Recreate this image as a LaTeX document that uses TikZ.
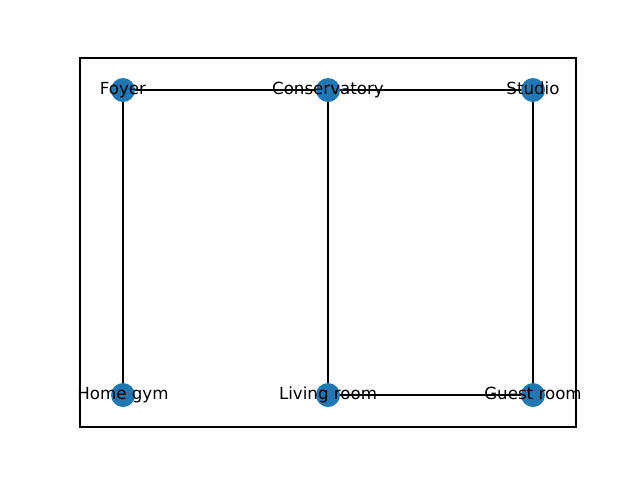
\documentclass[tikz,border=0pt]{standalone}
\usepackage{fontspec}
\setmainfont{DejaVu Sans}
\definecolor{nodeblue}{HTML}{1F77B4}
\begin{document}
\begin{tikzpicture}[x=0.75pt,y=-0.75pt,
  vertex/.style={circle,fill=nodeblue,minimum size=18pt,inner sep=0pt},
  lbl/.style={font=\fontsize{12.5pt}{15pt}\selectfont,inner sep=0pt,anchor=center,text height=9pt,text depth=3pt},
  edge/.style={line width=1pt,black}]
\useasboundingbox (0,0) rectangle (640,480);
\draw[line width=0.8pt] (80,58) rectangle (576,427);
\coordinate (foyer) at (123,90);
\coordinate (cons) at (328,90);
\coordinate (studio) at (533,90);
\coordinate (gym) at (123,395);
\coordinate (living) at (328,395);
\coordinate (guest) at (533,395);
\draw[edge] (foyer) -- (cons);
\draw[edge] (cons) -- (studio);
\draw[edge] (foyer) -- (gym);
\draw[edge] (cons) -- (living);
\draw[edge] (studio) -- (guest);
\draw[edge] (living) -- (guest);
\node[vertex] (nfoyer) at (foyer) {};
\node[vertex] (ncons) at (cons) {};
\node[vertex] (nstudio) at (studio) {};
\node[vertex] (ngym) at (gym) {};
\node[vertex] (nliving) at (living) {};
\node[vertex] (nguest) at (guest) {};
\node[lbl] (tfoyer) at (foyer) {Foyer};
\node[lbl] (tcons) at (cons) {Conservatory};
\node[lbl] (tstudio) at (studio) {Studio};
\node[lbl] (tgym) at (gym) {Home gym};
\node[lbl] (tliving) at (living) {Living room};
\node[lbl] (tguest) at (guest) {Guest room};
\end{tikzpicture}
\end{document}
